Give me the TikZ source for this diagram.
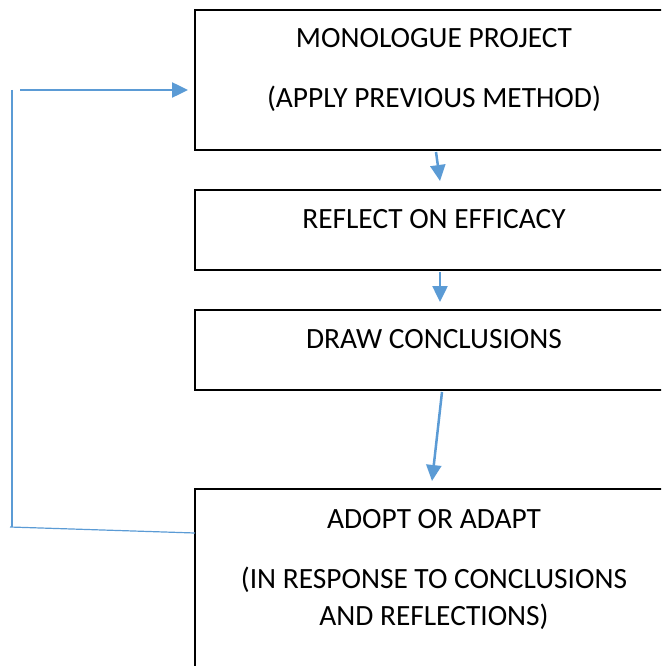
\documentclass[tikz,border=0pt]{standalone}
\usepackage{fontspec}
\setmainfont{Carlito}
\usetikzlibrary{arrows.meta}
\definecolor{arrowblue}{RGB}{91,155,213}
\begin{document}
\begin{tikzpicture}[x=1pt,y=-1pt,
  stepbox/.style={draw=black,line width=1.6pt,fill=none},
  lbl/.style={anchor=base,inner sep=0pt,font=\fontsize{29.4}{35}\selectfont},
  flow/.style={draw=arrowblue,line width=2.5pt,-{Triangle[length=16pt,width=15pt]}},
  thin/.style={draw=arrowblue,line width=1.2pt}]
\useasboundingbox (0,0) rectangle (661,666);
\clip (0,0) rectangle (661,666);
\draw[stepbox] (195,10) rectangle (673,150);
\draw[stepbox] (195,190) rectangle (673,270);
\draw[stepbox] (195,310) rectangle (673,390);
\draw[stepbox] (195,489) rectangle (673,700);
\node[lbl] (t1a) at (434,48) {MONOLOGUE PROJECT};
\node[lbl] (t1b) at (434,107) {(APPLY PREVIOUS METHOD)};
\node[lbl] (t2) at (434,228) {REFLECT ON EFFICACY};
\node[lbl] (t3) at (434,348) {DRAW CONCLUSIONS};
\node[lbl] (t4a) at (434,528) {ADOPT OR ADAPT};
\node[lbl] (t4b) at (434,588) {(IN RESPONSE TO CONCLUSIONS};
\node[lbl] (t4c) at (434,625) {AND REFLECTIONS)};
\coordinate (a1s) at (436,152); \coordinate (a1e) at (440,181);
\coordinate (a2s) at (440,272); \coordinate (a2e) at (440,302);
\coordinate (a3s) at (442,392); \coordinate (a3e) at (432,481);
\coordinate (fbs) at (20,90); \coordinate (fbe) at (188,90);
\coordinate (vt) at (12,90); \coordinate (vb) at (12,527);
\coordinate (bl) at (10,527); \coordinate (br) at (195,533);
\draw[flow] (a1s) -- (a1e);
\draw[flow] (a2s) -- (a2e);
\draw[flow] (a3s) -- (a3e);
\draw[flow] (fbs) -- (fbe);
\draw[thin] (vt) -- (vb);
\draw[thin] (bl) -- (br);
\end{tikzpicture}
\end{document}
